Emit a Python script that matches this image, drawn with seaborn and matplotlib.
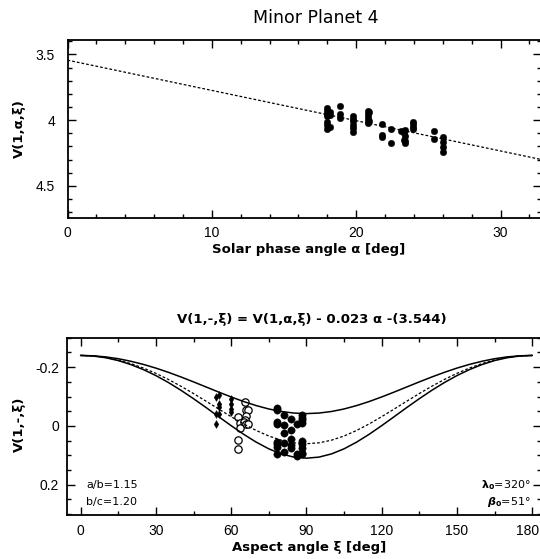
import numpy as np
import pandas as pd
import matplotlib
matplotlib.use('Agg')
import matplotlib.pyplot as plt
import matplotlib.transforms as mtransforms
import seaborn as sns
from matplotlib.ticker import MultipleLocator, FuncFormatter

# ---------------- data: top panel ----------------
phase_alpha = [18.0, 18.0, 18.0, 18.0, 18.0, 18.0, 18.0, 18.2, 18.2, 18.2,
               18.9, 18.9, 18.9,
               19.8, 19.8, 19.8, 19.8, 19.8, 19.8,
               20.8, 20.8, 20.8, 20.8, 20.8, 20.9, 20.9,
               21.8, 21.8, 21.8,
               22.4, 22.4,
               23.1, 23.3, 23.3, 23.4, 23.4, 23.4, 23.4,
               23.9, 23.9, 23.9, 23.9,
               25.4, 25.4,
               26.0, 26.0, 26.0, 26.0]
phase_V = [3.905, 3.93, 3.955, 3.97, 4.015, 4.04, 4.065, 3.94, 3.96, 4.05,
           3.89, 3.95, 3.98,
           3.97, 3.99, 4.01, 4.035, 4.06, 4.09,
           3.93, 3.95, 3.975, 4.0, 4.02, 3.94, 4.01,
           4.03, 4.11, 4.13,
           4.065, 4.17,
           4.085, 4.10, 4.15, 4.075, 4.12, 4.16, 4.175,
           4.015, 4.03, 4.05, 4.065,
           4.085, 4.14,
           4.125, 4.165, 4.205, 4.24]
fit_alpha = [0.0, 33.0]
fit_V = [3.544, 4.303]

# ---------------- data: bottom panel ----------------
diam_xi = [54.0, 55.3, 55.3, 55.3, 54.0, 55.3, 54.0, 59.8, 59.8, 59.8, 59.8]
diam_v = [-0.100, -0.105, -0.074, -0.066, -0.040, -0.040, -0.006,
          -0.091, -0.074, -0.059, -0.048]
open_xi = [65.5, 66.1, 66.8, 62.8, 65.9, 65.5, 63.5, 65.1, 66.1, 66.8, 63.7, 62.8, 62.8]
open_v = [-0.080, -0.055, -0.055, -0.029, -0.034, -0.020, -0.011, -0.014,
          -0.006, -0.006, 0.006, 0.049, 0.079]
fill_xi = [78.1] * 8 + [81.0] * 5 + [83.7] * 5 + [86.3] * 3 + [88.3] * 9
fill_v = [-0.0625, -0.055, -0.014, -0.006, 0.055, 0.0625, 0.072, 0.097,
          -0.0375, -0.002, 0.023, 0.057, 0.0875,
          -0.025, 0.015, 0.045, 0.065, 0.076,
          -0.008, 0.097, 0.102,
          -0.036, -0.028, -0.019, -0.009, 0.051, 0.060, 0.074, 0.091, 0.097]

curve_xi = list(range(0, 181, 5))
curve_upper = [-0.2400, -0.2387, -0.2350, -0.2288, -0.2202, -0.2095, -0.1969, -0.1825,
               -0.1667, -0.1500, -0.1327, -0.1154, -0.0987, -0.0831, -0.0693, -0.0578,
               -0.0492, -0.0439, -0.0420,
               -0.0439, -0.0492, -0.0578, -0.0693, -0.0831, -0.0987, -0.1154, -0.1327,
               -0.1500, -0.1667, -0.1825, -0.1969, -0.2095, -0.2202, -0.2288, -0.2350,
               -0.2387, -0.2400]
curve_lower = [-0.2400, -0.2380, -0.2322, -0.2225, -0.2090, -0.1919, -0.1714, -0.1478,
               -0.1214, -0.0928, -0.0627, -0.0317, -0.0010, 0.0284, 0.0551, 0.0778,
               0.0951, 0.1060, 0.1097,
               0.1060, 0.0951, 0.0778, 0.0551, 0.0284, -0.0010, -0.0317, -0.0627,
               -0.0928, -0.1214, -0.1478, -0.1714, -0.1919, -0.2090, -0.2225, -0.2322,
               -0.2380, -0.2400]
curve_mid = [-0.2400, -0.2382, -0.2330, -0.2243, -0.2123, -0.1971, -0.1790, -0.1582,
             -0.1352, -0.1103, -0.0843, -0.0577, -0.0316, -0.0069, 0.0154, 0.0342,
             0.0484, 0.0574, 0.0604,
             0.0574, 0.0484, 0.0342, 0.0154, -0.0069, -0.0316, -0.0577, -0.0843,
             -0.1103, -0.1352, -0.1582, -0.1790, -0.1971, -0.2123, -0.2243, -0.2330,
             -0.2382, -0.2400]

title_top = "Minor Planet 4"
title_bottom = "V(1,-,\u03be) = V(1,\u03b1,\u03be) - 0.023 \u03b1 -(3.544)"
note_ab = "a/b=1.15"
note_bc = "b/c=1.20"
note_lam = r"$\mathbf{\lambda_o}$" + "=320\u00b0"
note_beta = r"$\boldsymbol{\beta}_\mathbf{o}$" + "=51\u00b0"

# ---------------- style ----------------
sns.set_style('ticks')
plt.rcParams['font.family'] = ['DejaVu Sans']
plt.rcParams['axes.linewidth'] = 1.3
plt.rcParams['text.color'] = 'black'
plt.rcParams['axes.labelcolor'] = 'black'
plt.rcParams['xtick.color'] = 'black'
plt.rcParams['ytick.color'] = 'black'
plt.rcParams['axes.edgecolor'] = 'black'

fig = plt.figure(figsize=(5.4, 5.59), dpi=100)
W, H = 540.0, 559.0
ax1 = fig.add_axes([67.5 / W, 1 - 217.7 / H, (541 - 67.5) / W, (217.7 - 40) / H])
ax2 = fig.add_axes([67.3 / W, 1 - 515.3 / H, (541 - 67.3) / W, (515.3 - 337.5) / H])

fmt = FuncFormatter(lambda v, p: f"{v:g}")
for ax in (ax1, ax2):
    ax.tick_params(which='both', direction='in', top=True, right=True,
                   color='black', width=1.0, labelcolor='black')
    ax.tick_params(which='major', length=6)
    ax.tick_params(which='minor', length=3.2)
    ax.tick_params(axis='x', pad=6)
    ax.xaxis.set_major_formatter(fmt)
    ax.yaxis.set_major_formatter(fmt)

# ---------------- top panel ----------------
sns.lineplot(x=fit_alpha, y=fit_V, ax=ax1, color='black', lw=0.9,
             linestyle=(0, (2.2, 1.6)))
sns.scatterplot(x=phase_alpha, y=phase_V, ax=ax1, color='black', s=22,
                edgecolor='black', linewidth=0.3, marker='o')
ax1.set_xlim(0, 32.8)
ax1.set_ylim(4.741, 3.391)
ax1.xaxis.set_major_locator(MultipleLocator(10))
ax1.xaxis.set_minor_locator(MultipleLocator(2))
ax1.yaxis.set_major_locator(MultipleLocator(0.5))
ax1.yaxis.set_minor_locator(MultipleLocator(0.1))
ax1.tick_params(axis='y', pad=9)
ax1.set_xlabel("Solar phase angle \u03b1 [deg]", fontsize=9.5, fontweight='bold')
ax1.set_ylabel("V(1,\u03b1,\u03be)", fontsize=9.5, fontweight='bold')
ax1.xaxis.set_label_coords(0.51, -0.14)
ax1.yaxis.set_label_coords(-0.088, 0.5)

# ---------------- bottom panel ----------------
sns.lineplot(x=curve_xi, y=curve_upper, ax=ax2, color='black', lw=1.1)
sns.lineplot(x=curve_xi, y=curve_lower, ax=ax2, color='black', lw=1.1)
sns.lineplot(x=curve_xi, y=curve_mid, ax=ax2, color='black', lw=0.9,
             linestyle=(0, (2.2, 1.6)))
sns.scatterplot(x=diam_xi, y=diam_v, ax=ax2, color='black', s=16,
                marker='d', edgecolor='black', linewidth=0.3)
sns.scatterplot(x=open_xi, y=open_v, ax=ax2, s=28, marker='o',
                facecolor='white', edgecolor='black', linewidth=0.9)
sns.scatterplot(x=fill_xi, y=fill_v, ax=ax2, color='black', s=28,
                marker='o', edgecolor='black', linewidth=0.3)
ax2.set_xlim(-5.3, 183.5)
ax2.set_ylim(0.304, -0.301)
ax2.xaxis.set_major_locator(MultipleLocator(30))
ax2.xaxis.set_minor_locator(MultipleLocator(15))
ax2.yaxis.set_major_locator(MultipleLocator(0.2))
ax2.yaxis.set_minor_locator(MultipleLocator(0.05))
ax2.tick_params(axis='y', pad=6)
ax2.set_xlabel("Aspect angle \u03be [deg]", fontsize=9.5, fontweight='bold')
ax2.set_ylabel("V(1,-,\u03be)", fontsize=9.5, fontweight='bold')
ax2.xaxis.set_label_coords(0.51, -0.145)
ax2.yaxis.set_label_coords(-0.088, 0.51)

fig.text(86 / W, 1 - 485 / H, note_ab, fontsize=8, ha='left', va='center')
fig.text(86 / W, 1 - 501.5 / H, note_bc, fontsize=8, ha='left', va='center')
fig.text(531 / W, 1 - 485 / H, note_lam, fontsize=8, ha='right', va='center')
fig.text(531 / W, 1 - 502 / H, note_beta, fontsize=8, ha='right', va='center')

fig.text(316 / W, 1 - 18 / H, title_top, fontsize=12.5, ha='center', va='center')
fig.text(312 / W, 1 - 319 / H, title_bottom, fontsize=9.5, fontweight='bold',
         ha='center', va='center')

fig.canvas.draw()
for ax in (ax1, ax2):
    for lab in ax.get_xticklabels() + ax.get_yticklabels():
        lab.set_fontfamily('Liberation Sans')
        lab.set_fontsize(10)
        lab.set_color('black')
shift = mtransforms.ScaledTranslation(-5 / 100, 0, fig.dpi_scale_trans)
for t in ax2.xaxis.get_major_ticks():
    if abs(t.get_loc() - 180) < 1e-6:
        t.label1.set_transform(t.label1.get_transform() + shift)

fig.savefig('out.png', dpi=100)
